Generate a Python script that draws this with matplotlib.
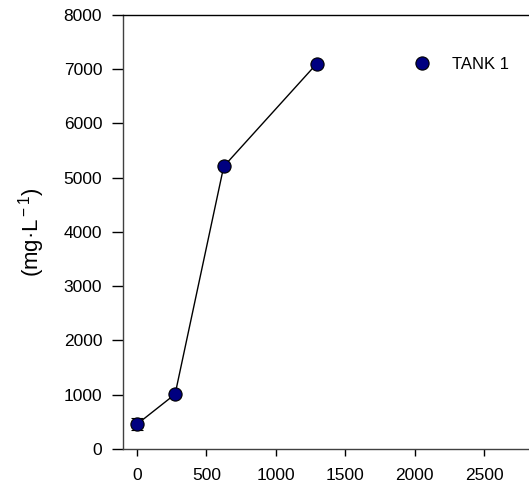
import matplotlib

matplotlib.use("Agg")
import matplotlib.pyplot as plt

plt.rcParams["font.family"] = ["Liberation Sans", "DejaVu Sans"]
plt.rcParams["mathtext.fontset"] = "custom"
plt.rcParams["mathtext.rm"] = "Liberation Sans"
plt.rcParams["mathtext.it"] = "Liberation Sans"

time_x = [0, 275, 625, 1295]
conc_y = [455, 1010, 5205, 7100]
conc_err = [110, 25, 30, 25]
series_label = "TANK 1"
x_ticks = [0, 500, 1000, 1500, 2000, 2500]
y_ticks = [0, 1000, 2000, 3000, 4000, 5000, 6000, 7000, 8000]

fig = plt.figure(figsize=(5.29, 4.91), dpi=100)
ax = fig.add_axes([0.2325, 0.0855, 0.7675, 0.8845])

ax.errorbar(
    time_x, conc_y, yerr=conc_err,
    color="black", lw=1.0, capsize=4, elinewidth=1.0, capthick=1.0,
    marker="o", markersize=9.5, markerfacecolor="#000080",
    markeredgecolor="black", markeredgewidth=0.8, zorder=3,
)

ax.set_xlim(-100, 2822)
ax.set_ylim(0, 8000)
ax.set_xticks(x_ticks)
ax.set_yticks(y_ticks)
ax.tick_params(axis="y", direction="out", length=8, width=1, labelsize=12.5, pad=7)
ax.tick_params(axis="x", direction="out", length=5, width=1, labelsize=12.5, pad=9)
ax.spines["right"].set_visible(False)
for side in ("left", "bottom", "top"):
    ax.spines[side].set_linewidth(1.0)
ax.spines["left"].set_color("#404040")
ax.spines["bottom"].set_color("#404040")

ax.set_ylabel("(mg·L$^{\\rm -1}$)", fontsize=16)
ax.yaxis.set_label_coords(-0.186, 0.5)

ax.legend(
    [ax.lines[0]], [series_label], loc="center left",
    bbox_to_anchor=(0.717, 0.885), frameon=False, fontsize=12,
    handlelength=1.0, handletextpad=1.3, borderpad=0, borderaxespad=0,
)
leg = ax.get_legend()
for h in leg.legend_handles:
    h.set_linestyle("none")

fig.savefig("out.png", dpi=100)
